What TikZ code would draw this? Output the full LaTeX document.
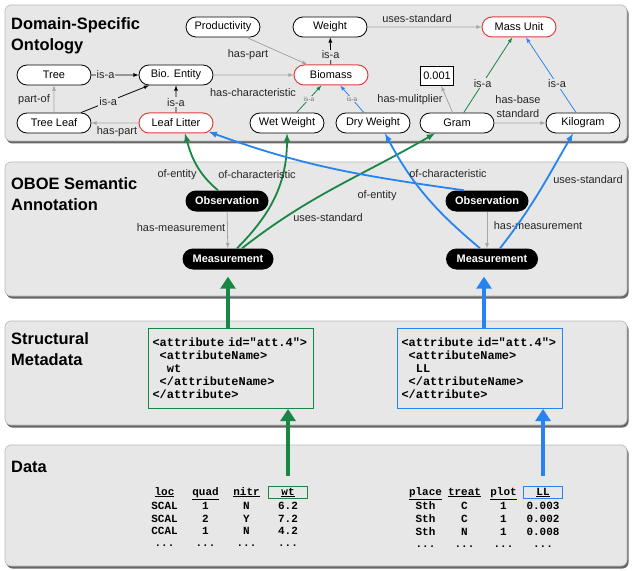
\documentclass[tikz,border=0pt]{standalone}
\usepackage{fontspec}
\setmainfont{Liberation Sans}
\setmonofont{Liberation Mono}
\usetikzlibrary{shapes.misc,shadows,matrix,arrows.meta}

\definecolor{oboegreen}{RGB}{24,134,68}
\definecolor{oboeblue}{RGB}{38,132,240}
\definecolor{oboered}{RGB}{222,64,64}
\definecolor{panelgray}{RGB}{231,231,231}

\newcommand{\xmlindent}{\hspace*{0.6em}}

\tikzset{
  panel/.style={fill=panelgray, draw=gray!55, rounded corners=6bp, line width=0.6bp,
    drop shadow={shadow xshift=1.5bp, shadow yshift=-2.5bp, opacity=0.75, fill=black!80}},
  paneltitle/.style={anchor=north west, align=left, inner sep=0,
    font=\fontsize{16.5}{21}\selectfont\bfseries},
  concept/.style={rounded rectangle, draw, fill=white, line width=0.8bp,
    minimum width=78bp, minimum height=20bp, inner sep=2bp,
    font=\fontsize{11}{13}\selectfont},
  redconcept/.style={concept, draw=oboered, line width=1bp},
  oboe/.style={rounded rectangle, fill=black, text=white, minimum height=21bp,
    inner sep=3bp, font=\fontsize{11}{13}\selectfont\bfseries},
  lbl/.style={font=\fontsize{11}{13}\selectfont, text=black!85, inner sep=1bp},
  onlbl/.style={lbl, fill=panelgray},
  tinylbl/.style={font=\fontsize{6.5}{7}\selectfont, text=gray!90!black,
    fill=panelgray, inner sep=0.5bp},
  rel/.style={-latex, gray!70, line width=0.8bp},
  isa/.style={-latex, black, line width=0.8bp},
  annot/.style={-latex, line width=1.8bp},
  bigarrow/.style={-{Triangle[width=15bp,length=12bp]}, line width=4.5bp},
  xmlbox/.style={draw, line width=1bp, anchor=north west, minimum width=165bp,
    minimum height=80bp, text width=157bp, inner sep=4bp, align=left,
    font=\fontsize{12}{13}\selectfont\ttfamily\bfseries},
  datatable/.style={matrix of nodes, anchor=north west, row sep=0.5bp,
    nodes={minimum width=39bp, minimum height=12bp, inner sep=0bp,
      font=\fontsize{11}{12}\selectfont\ttfamily\bfseries}}
}

\begin{document}
\begin{tikzpicture}[x=1bp, y=-1bp]
  \useasboundingbox (0,0) rectangle (632,571);

  % panels
  \draw[panel] (5,5) rectangle (627,141);
  \draw[panel] (5,162) rectangle (627,296);
  \draw[panel] (5,321) rectangle (627,425);
  \draw[panel] (5,445) rectangle (627,566);

  \node[paneltitle] (ttlonto) at (11,17) {Domain-Specific\\Ontology};
  \node[paneltitle] (ttloboe) at (11,177) {OBOE Semantic\\Annotation};
  \node[paneltitle] (ttlstruct) at (11,332) {Structural\\Metadata};
  \node[paneltitle] (ttldata) at (11,461) {Data};

  % ontology
  \node[concept] (prod) at (223,27) {Productivity};
  \node[concept] (weight) at (330,27) {Weight};
  \node[redconcept] (massunit) at (519,27) {Mass Unit};
  \node[concept] (tree) at (54,75) {Tree};
  \node[concept] (bioent) at (176,75) {Bio. Entity};
  \node[redconcept] (biomass) at (331,75) {Biomass};
  \node[draw, fill=white, line width=0.8bp, minimum width=33bp, minimum height=19bp,
    inner sep=1bp, font=\fontsize{11}{13}\selectfont] (mult) at (437,76) {0.001};
  \node[concept] (treeleaf) at (54,123) {Tree Leaf};
  \node[redconcept] (litter) at (176,123) {Leaf Litter};
  \node[concept] (wetw) at (287,123) {Wet Weight};
  \node[concept] (dryw) at (373,123) {Dry Weight};
  \node[concept] (gram) at (457,123) {Gram};
  \node[concept] (kilo) at (583,123) {Kilogram};

  \draw[rel] (prod) -- (biomass);
  \node[lbl] (lhaspart) at (248,55) {has-part};
  \draw[isa] (biomass) -- node[onlbl, pos=0.35] (lisaweight) {is-a} (weight);
  \draw[rel] (weight) -- (massunit);
  \node[lbl] (lusesmass) at (417,19) {uses-standard};
  \draw[isa] (tree) -- node[onlbl, pos=0.3] (lisatree) {is-a} (bioent);
  \draw[isa] (treeleaf.north east) -- node[onlbl, pos=0.4] (lisaleaf) {is-a} (bioent.south west);
  \draw[rel] (treeleaf) -- (tree);
  \node[lbl] (lpartof) at (34,100) {part-of};
  \draw[isa] (litter) -- node[onlbl, pos=0.38] (lisalitter) {is-a} (bioent);
  \draw[rel] (litter) -- (treeleaf);
  \node[lbl] (lhaspartleaf) at (117,132) {has-part};
  \draw[rel] (bioent) -- (biomass);
  \node[lbl] (lhaschar) at (253,93) {has-characteristic};
  \draw[-latex, oboegreen, line width=0.8bp] (wetw) -- node[tinylbl] (lisawet) {is-a} (biomass);
  \draw[-latex, oboeblue, line width=0.8bp] (dryw) -- node[tinylbl] (lisadry) {is-a} (biomass);
  \draw[rel] (gram) -- (mult);
  \node[lbl] (lmult) at (410,100) {has-mulitplier};
  \draw[-latex, oboegreen, line width=0.8bp] (gram) -- node[onlbl, pos=0.39] (lisagram) {is-a} (massunit);
  \draw[rel] (gram) -- (kilo);
  \node[lbl, align=center, font=\fontsize{11}{14}\selectfont] (lbase) at (518,107) {has-base\\standard};
  \draw[-latex, oboeblue, line width=0.8bp] (kilo) -- node[onlbl, pos=0.38] (lisakilo) {is-a} (massunit);

  % semantic annotation
  \node[oboe, minimum width=89bp] (obsL) at (227,201) {Observation};
  \node[oboe, minimum width=97bp] (measL) at (228,259) {Measurement};
  \node[oboe, minimum width=89bp] (obsR) at (487,201) {Observation};
  \node[oboe, minimum width=98bp] (measR) at (492,259) {Measurement};

  \draw[rel] (obsL) -- (measL);
  \node[lbl] (lmeasL) at (181,228) {has-measurement};
  \draw[rel] (obsR.south) -- (obsR.south |- measR.north);
  \node[lbl] (lmeasR) at (538,226) {has-measurement};

  \draw[annot, oboegreen] ([xshift=-9bp]obsL.north) to[out=140, in=-75] ([xshift=9bp]litter.south);
  \node[lbl] (lentL) at (177,175) {of-entity};
  \draw[annot, oboegreen] ([xshift=9bp]measL.north) to[out=45, in=-90] (wetw.south);
  \node[lbl] (lcharL) at (257,175) {of-characteristic};
  \draw[annot, oboegreen] ([xshift=14bp]measL.north) to[out=38, in=-150] ([xshift=-22bp]gram.south);
  \node[lbl] (lusesL) at (328,218) {uses-standard};

  \draw[annot, oboeblue] (obsR.155) to[out=172, in=-20] (litter.-15);
  \node[lbl] (lentR) at (377,196) {of-entity};
  \draw[annot, oboeblue] ([xshift=-12bp]measR.north) to[out=140, in=-62] ([xshift=12bp]dryw.south);
  \node[lbl] (lcharR) at (448,174) {of-characteristic};
  \draw[annot, oboeblue] ([xshift=8bp]measR.north) to[out=52, in=-120] ([xshift=-10bp]kilo.south);
  \node[lbl] (lusesR) at (588,180) {uses-standard};

  % structural metadata
  \node[xmlbox, draw=oboegreen] (xmlG) at (148,328)
    {<attribute id="att.4">\\\xmlindent<attributeName>\\\xmlindent\xmlindent wt\\\xmlindent</attributeName>\\</attribute>};
  \node[xmlbox, draw=oboeblue] (xmlB) at (397,328)
    {<attribute id="att.4">\\\xmlindent<attributeName>\\\xmlindent\xmlindent LL\\\xmlindent</attributeName>\\</attribute>};

  \draw[bigarrow, oboegreen, shorten >=7bp] (measL.south |- xmlG.north) -- (measL.south);
  \draw[bigarrow, oboeblue, shorten >=7bp] ([xshift=-8bp]measR.south |- xmlB.north) -- ([xshift=-8bp]measR.south);

  % data
  \matrix (tabG) [datatable, column sep=2bp] at (141.5,482.5) {
    \underline{loc} & \underline{quad} & \underline{nitr} & |[draw=oboegreen, line width=1bp]| \underline{wt} \\
    SCAL & 1 & N & 6.2 \\
    SCAL & 2 & Y & 7.2 \\
    CCAL & 1 & N & 4.2 \\[2bp]
    ... & ... & ... & ... \\
  };
  \matrix (tabB) [datatable, column sep=0bp] at (402.5,482.5) {
    \underline{place} & \underline{treat} & \underline{plot} & |[draw=oboeblue, line width=1bp]| \underline{LL} \\
    Sth & C & 1 & 0.003 \\
    Sth & C & 1 & 0.002 \\
    Sth & N & 1 & 0.008 \\[2bp]
    ... & ... & ... & ... \\
  };

  \draw[bigarrow, oboegreen, shorten <=10bp] (tabG-1-4.north) -- (tabG-1-4.north |- xmlG.south);
  \draw[bigarrow, oboeblue, shorten <=10bp] (tabB-1-4.north) -- (tabB-1-4.north |- xmlB.south);
\end{tikzpicture}
\end{document}
